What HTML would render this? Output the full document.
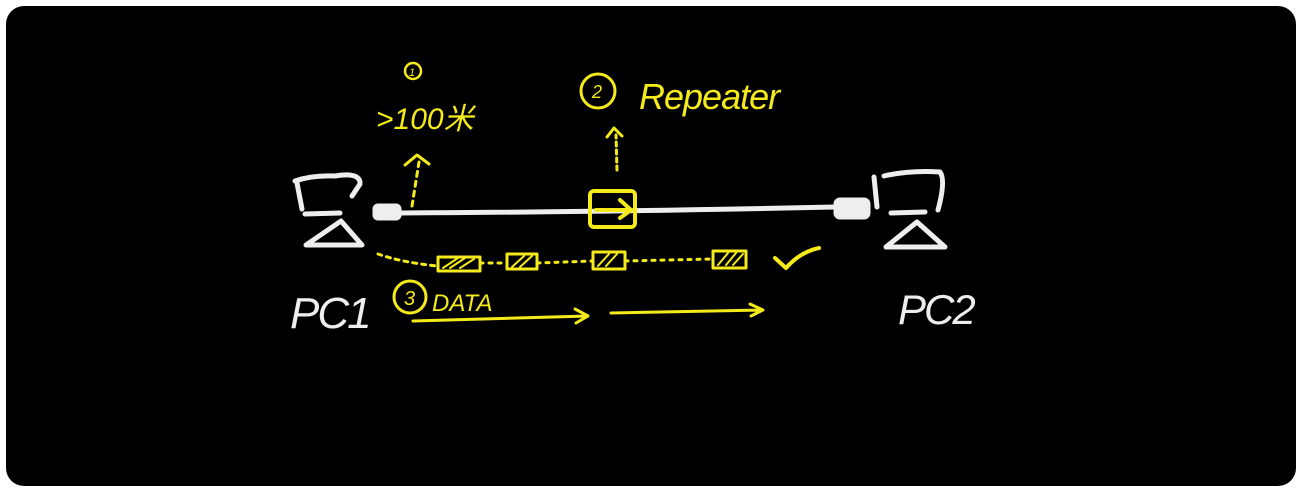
<!DOCTYPE html>
<html><head><meta charset="utf-8"><style>
html,body{margin:0;padding:0;background:#fff;width:1302px;height:492px;overflow:hidden}
svg{display:block}
text{font-family:"Liberation Sans","Noto Sans CJK SC",sans-serif}
</style></head><body>
<svg width="1302" height="492" viewBox="0 0 1302 492" xmlns="http://www.w3.org/2000/svg">
<rect x="6" y="6" width="1290" height="480" rx="18" fill="#000"/>
<g stroke="#eee" stroke-width="5" fill="none" stroke-linecap="round" stroke-linejoin="round">
  <!-- PC1 -->
  <path d="M295 181 Q312 175 335 176 Q358 172 360 182"/>
  <path d="M297 183 L302 209"/>
  <path d="M360 184 L352 196"/>
  <path d="M305 214 L340 213"/>
  <path d="M341 221 L306 245 L362 245 Z"/>
  <rect x="375" y="206" width="24" height="12" fill="#eee" rx="3"/>
  <path d="M400 213 Q600 212 835 207" stroke-width="5"/>
  <!-- PC2 -->
  <rect x="836" y="200" width="32" height="17" fill="#eee" rx="4"/>
  <path d="M874 177 L877 207"/>
  <path d="M884 176 Q910 170 940 172 Q946 180 938 210"/>
  <path d="M891 213 L925 212"/>
  <path d="M917 222 L886 247 L945 247 Z"/>
  <!-- PC labels as strokes-free text -->
</g>
<text x="290" y="328" font-size="44" fill="#eee" font-style="italic" style="letter-spacing:-2px">PC1</text>
<text x="898" y="324" font-size="42" fill="#eee" font-style="italic" style="letter-spacing:-2px">PC2</text>
<g stroke="#f5ea1a" stroke-width="3" fill="none" stroke-linecap="round" stroke-linejoin="round">
  <circle cx="413" cy="71" r="8" stroke-width="2.5"/>
  <path d="M412 206 L419 162" stroke-dasharray="5 5"/>
  <path d="M405 165 L417 155 L429 164"/>
  <circle cx="598" cy="91" r="17" stroke-width="3"/>
  <path d="M617 170 L616 135" stroke-dasharray="4 4"/>
  <path d="M607 137 L614 128 L622 136"/>
  <rect x="590" y="191" width="45" height="36" rx="4" stroke-width="4"/>
  <path d="M596 210 L631 210 M620 200 L631 210 L620 218" stroke-width="4"/>
  <path d="M378 254 Q400 262 437 266" stroke-dasharray="4 5"/>
  <path d="M480 263 L507 263 M537 263 L592 261 M625 261 L712 259" stroke-dasharray="3 6"/>
  <rect x="438" y="257" width="42" height="14"/>
  <rect x="507" y="254" width="30" height="15"/>
  <rect x="593" y="252" width="32" height="17"/>
  <rect x="713" y="251" width="33" height="17"/>
  <path d="M443 268 L458 258 M450 268 L465 258 M460 268 L474 259 M512 267 L524 256 M520 267 L532 256 M598 266 L609 254 M606 266 L617 254 M718 265 L728 253 M726 265 L736 253 M733 265 L743 254" stroke-width="2"/>
  <path d="M775 258 L786 268 Q800 252 819 248" stroke-width="4"/>
  <circle cx="410" cy="297" r="16"/>
  <path d="M413 321 L588 316 M575 309 L588 316 L576 323"/>
  <path d="M611 313 L763 310 M750 304 L763 310 L751 316"/>
</g>
<g fill="#f5ea1a" font-style="italic">
  <text x="409" y="76" font-size="11">1</text>
  <text x="592" y="98" font-size="18">2</text>
  <text x="639" y="109" font-size="36" style="letter-spacing:-1px">Repeater</text>
  <text x="376" y="129" font-size="30">&gt;100米</text>
  <text x="404" y="305" font-size="20">3</text>
  <text x="432" y="311" font-size="24">DATA</text>
</g>
</svg>
</body></html>
